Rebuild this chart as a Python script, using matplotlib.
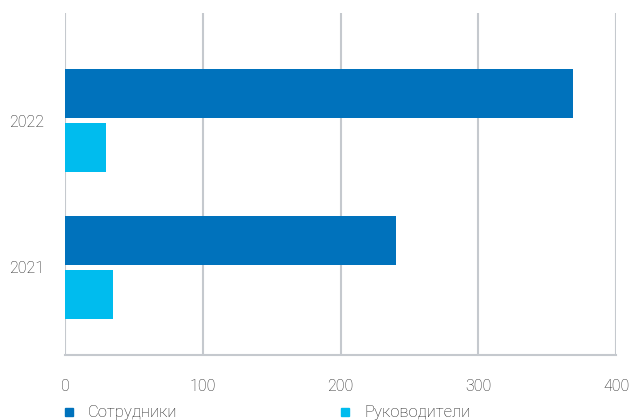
import numpy as np
import matplotlib.pyplot as plt
from matplotlib.patches import Rectangle

plt.rcParams['font.family'] = ['Roboto', 'DejaVu Sans']

years = ['2021', '2022']
series_names = ['Сотрудники', 'Руководители']
employees = [240, 369]
managers = [35, 30]
colors = ['#0072BC', '#00BCEE']

grid_color = '#C5C9CE'
text_color = '#222222'

fig = plt.figure(figsize=(6.29, 4.2), dpi=100)
ax = fig.add_axes([65 / 629, 65 / 420, 551 / 629, 342 / 420])

y = np.arange(len(years))
h = 0.334
off = 0.184
ax.barh(y + off, employees, height=h, color=colors[0], zorder=3)
ax.barh(y - off, managers, height=h, color=colors[1], zorder=3)

ax.set_xlim(0, 400)
ax.set_ylim(-0.6, 1.734)
ax.set_xticks([0, 100, 200, 300, 400])
ax.set_yticks(y)
ax.set_yticklabels(years)

ax.grid(axis='x', color=grid_color, linewidth=1.5, zorder=0)
for s in ['top', 'right', 'left']:
    ax.spines[s].set_visible(False)
ax.spines['bottom'].set_color(grid_color)
ax.spines['bottom'].set_linewidth(1.5)
ax.tick_params(axis='both', length=0, labelsize=11.5, labelcolor=text_color)
ax.tick_params(axis='x', pad=17)
ax.tick_params(axis='y', pad=15)
for lbl in ax.get_xticklabels() + ax.get_yticklabels():
    lbl.set_fontweight('light')

# legend below the axis
legend_x = [65, 341]
for name, col, lx in zip(series_names, colors, legend_x):
    fig.patches.append(Rectangle((lx / 629, 4 / 420), 8 / 629, 8 / 420,
                                 transform=fig.transFigure, color=col))
    fig.text((lx + 23) / 629, 8 / 420, name, fontsize=12, color=text_color,
             va='center', ha='left', fontweight='light')

plt.savefig('out.png', dpi=100)
